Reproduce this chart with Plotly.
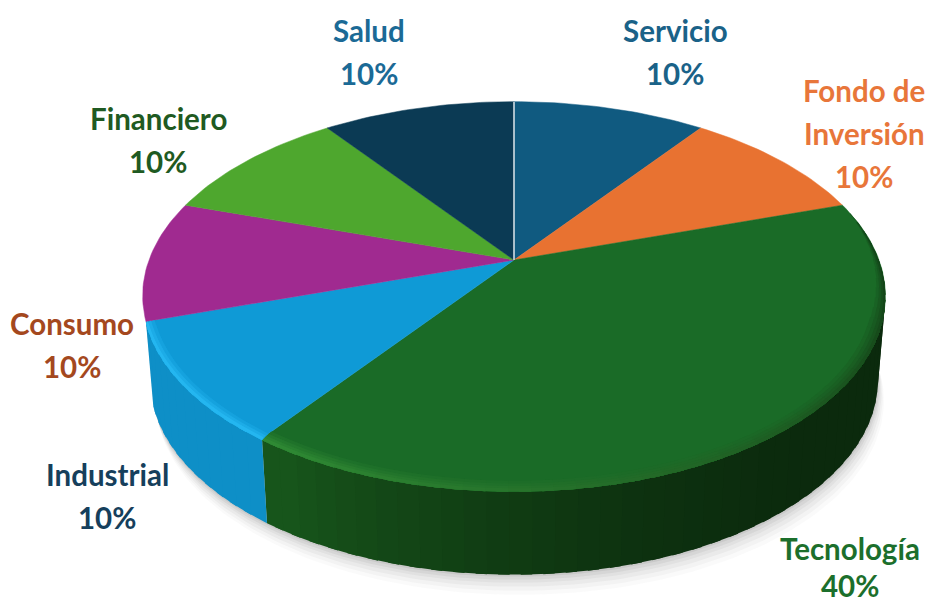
import numpy as np
import plotly.graph_objects as go

categories = ["Servicio", "Fondo de Inversión", "Tecnología", "Industrial", "Consumo", "Financiero", "Salud"]
values = [10, 10, 40, 10, 10, 10, 10]
slice_colors = ["#105a80", "#e87231", "#1a6b27", "#0f9ad6", "#a02a90", "#4ea72e", "#0b3a54"]
label_colors = ["#1a6288", "#e8763a", "#1c6f2c", "#163f5c", "#a4481e", "#1f5a22", "#1b6a96"]
label_lines = [["Servicio"], ["Fondo de", "Inversión"], ["Tecnología"], ["Industrial"], ["Consumo"], ["Financiero"], ["Salud"]]
label_anchor = [(675, 30), (864, 90), (850, 548), (107, 474), (72, 323), (158, 118), (369, 30)]
label_gap = [43, 43, 37, 43, 43, 43, 43]

# Projection of the disc
CX, CY, A, B, K, DEPTH, FOOT = 514, 260, 365, 187.5, 0.184, 85, 0.98


def proj(theta, r=1.0):
    t = np.radians(theta)
    x, y = r * np.sin(t), r * np.cos(t)
    w = 1 + K * y
    return CX + A * x / w, CY - B * y / w


def mix(c1, c2, f):
    a = [int(c1[i:i + 2], 16) for i in (1, 3, 5)]
    b = [int(c2[i:i + 2], 16) for i in (1, 3, 5)]
    return "#%02x%02x%02x" % tuple(int(round(p + (q - p) * f)) for p, q in zip(a, b))


def foot(x):
    return CX + (np.asarray(x) - CX) * FOOT


fig = go.Figure()


def poly(x, y, color, name=None, opacity=1.0, lw=0):
    fig.add_trace(go.Scatter(x=list(x), y=list(y), mode="lines", fill="toself", fillcolor=color,
                             line=dict(color=color, width=lw), opacity=opacity,
                             hoverinfo="skip" if name is None else "text", text=name, showlegend=False))


total = sum(values)
edges = np.concatenate([[0], np.cumsum(values) / total * 360])

# Soft shadow under the disc
full = np.linspace(92, 252, 120)
for off, alpha in [(20, 0.03), (16, 0.04), (12, 0.05), (8, 0.06), (5, 0.08), (2, 0.10)]:
    sx, sy = proj(full)
    poly(np.concatenate([foot(sx) + off * 0.3, sx[::-1]]), np.concatenate([sy + DEPTH + off, sy[::-1]]),
         "#555555", opacity=alpha)

# Side wall
WALL_FROM, WALL_TO = 92, 252
OVERLAP = 1.5
for i in range(len(values)):
    lo, hi = max(edges[i], WALL_FROM), min(edges[i + 1], WALL_TO)
    if lo >= hi:
        continue
    steps = np.linspace(lo, hi, int((hi - lo) / 3) + 2)
    for a0, a1 in zip(steps[:-1], steps[1:]):
        f = ((a0 + a1) / 2 - WALL_FROM) / (WALL_TO - WALL_FROM)
        if categories[i] == "Tecnología":
            col = mix("#0b2a0d", "#17551b", min(1.0, max(0.0, (f - 0.25) / 0.5)) ** 1.8)
        else:
            col = mix(slice_colors[i], "#0d8ac0", 0.7)
        tt = np.array([a0, min(a1 + OVERLAP, hi)])
        x, y = proj(tt)
        fx = foot(x)
        poly([x[0], x[1], fx[1], fx[0], x[0]], [y[0], y[1], y[1] + DEPTH, y[0] + DEPTH, y[0]], col)

# Top surface
for i in range(len(values)):
    arc = np.linspace(edges[i], edges[i + 1], max(8, int(values[i] * 3)))
    x, y = proj(arc)
    poly(np.concatenate([[CX], x, [CX]]), np.concatenate([[CY], y, [CY]]), slice_colors[i],
         name=f"{categories[i]}: {values[i]}%", lw=0.5)

# Bevel along the front rim of the top surface, in soft bands
BEVEL_FROM = 72
BANDS = [(0.968, 0.25), (0.978, 0.5), (0.987, 0.75), (0.995, 1.0)]
BLUE_BANDS = [(0.978, 0.3), (0.987, 0.65), (0.995, 1.0)]
for i in range(len(values)):
    lo, hi = max(edges[i], BEVEL_FROM), min(edges[i + 1], WALL_TO)
    if lo >= hi:
        continue
    steps = np.linspace(lo, hi, int((hi - lo) / 3) + 2)
    for r, strength in (BANDS if categories[i] == "Tecnología" else BLUE_BANDS):
        for a0, a1 in zip(steps[:-1], steps[1:]):
            f = ((a0 + a1) / 2 - BEVEL_FROM) / (WALL_TO - BEVEL_FROM)
            ramp = np.clip((a0 - BEVEL_FROM) / 35, 0, 1)
            tt = np.array([a0, min(a1 + OVERLAP, hi)])
            xo, yo = proj(tt)
            # the band narrows to nothing where it starts at the far right
            xi, yi = proj(tt, 1 - (1 - r) * ramp)
            if categories[i] == "Tecnología":
                col = mix(slice_colors[i], mix("#0e3312", "#2f8a34", min(1.0, f * 1.25)), strength)
            else:
                col = mix(slice_colors[i], "#24b6f0", strength)
            lift = 2 * ramp
            poly([xo[0], xo[1], xi[1], xi[0], xo[0]],
                 [yo[0] + lift, yo[1] + lift, yi[1], yi[0], yo[0] + lift], col)

# White hairline between the first and last slice
x0, y0 = proj(0.0)
fig.add_trace(go.Scatter(x=[CX, x0], y=[CY, y0], mode="lines", line=dict(color="#dfe8ee", width=1.5),
                         hoverinfo="skip", showlegend=False))

# Labels
for i, lines in enumerate(label_lines):
    ax, ay = label_anchor[i]
    rows = lines + [f"{values[i]}%"]
    for j, row in enumerate(rows):
        fig.add_annotation(x=ax, y=ay + j * label_gap[i], text=f"<b>{row}</b>", showarrow=False,
                           xanchor="center", yanchor="middle",
                           font=dict(family="Lato, Open Sans, sans-serif", size=29.5, color=label_colors[i]))

fig.update_layout(width=929, height=603, margin=dict(l=0, r=0, t=0, b=0), paper_bgcolor="white",
                  plot_bgcolor="white", showlegend=False,
                  xaxis=dict(range=[0, 929], visible=False, fixedrange=True),
                  yaxis=dict(range=[603, 0], visible=False, fixedrange=True))
fig.write_html("out.html", config={"displayModeBar": False},
               post_script="document.body.style.margin='0';document.body.style.overflow='hidden';")
